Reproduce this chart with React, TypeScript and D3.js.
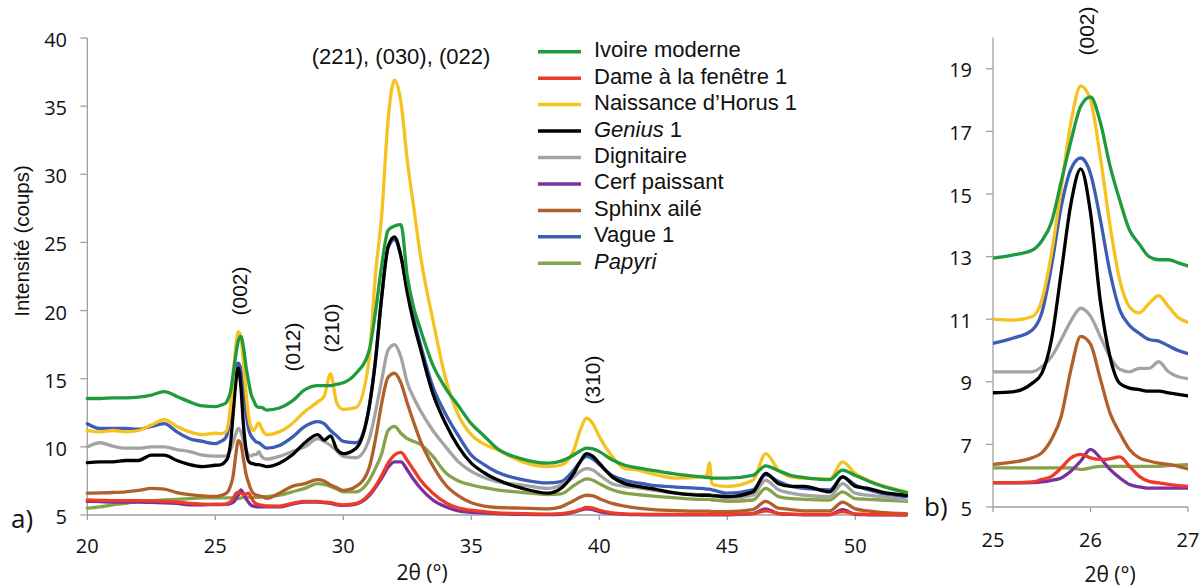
import React from "react";
import * as d3 from "d3";

// 2θ sampling positions (degrees)
const TWO_THETA = [
  20, 20.5, 21, 21.5, 22, 22.5, 23, 23.5, 24, 24.5, 25,
  25.2, 25.4, 25.5, 25.6, 25.7, 25.8, 25.9, 26, 26.1, 26.2, 26.3, 26.4, 26.5, 26.6, 26.7, 26.8, 26.9,
  27, 27.5, 28, 28.5, 29, 29.25, 29.5, 29.75, 30, 30.5,
  31, 31.25, 31.5, 31.75, 32, 32.25, 32.5, 32.75, 33,
  33.5, 34, 34.5, 35, 35.5, 36,
  37, 38, 38.5, 39, 39.25, 39.5, 39.75, 40, 40.5,
  41, 41.5, 42, 43, 44, 44.2, 44.3, 44.4, 44.5,
  45, 46, 46.5, 47, 47.5, 48, 49, 49.5, 50, 50.5, 51, 52,
];

const IVOIRE_MODERNE = [
  13.55, 13.55, 13.6, 13.6, 13.65, 13.8, 14.05, 13.7, 13.3, 13.0, 12.95,
  13.05, 13.2, 13.5, 14.1, 15.4, 16.7, 17.8, 18.1, 17.3, 15.9, 14.8, 13.85, 13.4, 13.0, 12.9, 12.9, 12.8,
  12.7, 12.85, 13.35, 14.2, 14.5, 14.5, 14.5, 14.6, 14.7, 15.4,
  17.0, 19.8, 23.3, 25.9, 26.2, 26.3, 22.5, 20.2, 18.7,
  16.0, 14.3, 13.0, 11.7, 10.8, 9.9,
  9.1, 8.8, 8.95, 9.4, 9.7, 9.9, 9.85, 9.65, 9.05,
  8.65, 8.45, 8.3, 8.0, 7.8, 7.75, 7.75, 7.7, 7.7,
  7.7, 7.9, 8.6, 8.25, 7.9, 7.75, 7.6, 8.3, 7.9, 7.5, 7.15, 6.65,
];

const DAME_FENETRE = [
  6.1, 6.08, 6.05, 6.05, 6.05, 6.03, 6.0, 5.95, 5.85, 5.8, 5.78,
  5.78, 5.8, 5.88, 5.98, 6.25, 6.57, 6.68, 6.57, 6.52, 6.54, 6.6, 6.3, 5.98, 5.82, 5.77, 5.72, 5.68,
  5.66, 5.65, 5.85, 6.0, 6.0, 5.95, 5.9, 5.8, 5.75, 5.85,
  6.5, 7.1, 7.9, 8.8, 9.4, 9.6, 9.0, 8.3, 7.6,
  6.6, 5.9, 5.5, 5.35, 5.25, 5.15,
  5.1, 5.07, 5.1, 5.25, 5.4, 5.55, 5.5, 5.35, 5.15,
  5.08, 5.06, 5.05, 5.05, 5.05, 5.05, 5.05, 5.05, 5.05,
  5.05, 5.1, 5.3, 5.12, 5.07, 5.05, 5.05, 5.25, 5.08, 5.05, 5.03, 5.02,
];

const NAISSANCE_HORUS = [
  11.2, 11.1, 11.2, 11.1, 11.2, 11.6, 12.0, 11.5, 11.1, 10.9, 11.0,
  10.97, 11.08, 11.6, 13.1, 15.2, 17.3, 18.45, 18.0, 16.2, 14.0, 12.25, 11.4, 11.2, 11.5, 11.75, 11.4, 11.05,
  10.9, 11.1, 11.7, 12.6, 13.3, 13.7, 15.35, 13.2, 12.75, 12.9,
  16.3, 22.5, 27.0, 34.0, 36.9, 35.3, 31.0, 27.6, 24.2,
  19.3, 15.0, 12.3, 10.9, 10.2, 9.8,
  8.9, 8.55, 8.65, 9.75, 11.2, 12.1, 11.7, 10.75, 9.3,
  8.4, 8.3, 8.05, 7.7, 7.8, 7.9, 8.85, 7.3, 7.2,
  7.1, 7.55, 9.5, 8.3, 7.8, 7.7, 7.65, 8.9, 8.05, 7.55, 7.2, 6.7,
];

const GENIUS = [
  8.85, 8.9, 8.9, 9.0, 9.0, 9.4, 9.4, 9.0, 8.7, 8.55, 8.65,
  8.68, 8.95, 9.27, 10.35, 12.5, 14.7, 15.8, 14.4, 11.6, 9.8, 8.95, 8.8, 8.75, 8.7, 8.7, 8.65, 8.6,
  8.55, 8.8, 9.4, 10.3, 10.9, 10.5, 10.8, 9.8, 9.5, 9.9,
  12.8, 16.2, 21.0, 24.7, 25.4, 24.0, 21.3, 19.1, 17.3,
  13.9, 11.7, 10.0, 8.8, 8.1, 7.6,
  6.95, 6.6, 6.95, 8.05, 8.9, 9.5, 9.3, 8.8, 7.8,
  7.3, 7.1, 6.95, 6.6, 6.45, 6.45, 6.45, 6.4, 6.4,
  6.35, 6.7, 8.05, 7.3, 7.1, 7.1, 6.7, 7.8, 7.1, 6.95, 6.7, 6.45,
];

const DIGNITAIRE = [
  10.0, 10.3, 10.05, 9.9, 9.9, 10.0, 10.0, 9.8, 9.65, 9.4, 9.32,
  9.32, 9.32, 9.48, 9.8, 10.35, 10.95, 11.35, 11.1, 10.45, 9.8, 9.4, 9.32, 9.43, 9.43, 9.64, 9.32, 9.16,
  9.1, 9.3, 9.65, 10.0, 10.6, 10.4, 10.1, 9.7, 9.3, 9.2,
  10.5, 12.5, 14.9, 17.1, 17.5, 16.6, 14.7, 13.6, 12.7,
  11.2, 10.0, 8.9, 8.2, 7.75, 7.45,
  7.2, 6.95, 7.2, 7.8, 8.2, 8.4, 8.3, 7.95, 7.3,
  7.1, 7.0, 6.85, 6.6, 6.5, 6.5, 6.5, 6.45, 6.45,
  6.2, 6.45, 7.55, 6.85, 6.6, 6.45, 6.35, 7.3, 6.6, 6.45, 6.35, 6.1,
];

const CERF_PAISSANT = [
  6.0, 5.98, 5.95, 5.95, 5.95, 5.92, 5.9, 5.85, 5.75, 5.75, 5.77,
  5.77, 5.78, 5.8, 5.85, 5.93, 6.15, 6.47, 6.84, 6.57, 6.2, 5.93, 5.72, 5.64, 5.6, 5.6, 5.6, 5.6,
  5.6, 5.6, 5.8, 5.95, 5.95, 5.9, 5.85, 5.75, 5.7, 5.8,
  6.4, 7.0, 7.7, 8.5, 8.9, 8.9, 8.3, 7.6, 7.0,
  6.1, 5.6, 5.3, 5.2, 5.15, 5.1,
  5.05, 5.03, 5.05, 5.2, 5.35, 5.45, 5.4, 5.25, 5.1,
  5.05, 5.03, 5.02, 5.02, 5.02, 5.02, 5.02, 5.02, 5.02,
  5.02, 5.1, 5.45, 5.1, 5.04, 5.02, 5.02, 5.4, 5.05, 5.02, 5.01, 5.0,
];

const SPHINX_AILE = [
  6.6, 6.62, 6.65, 6.7, 6.8, 6.95, 6.9, 6.65, 6.5, 6.4, 6.36,
  6.43, 6.57, 6.73, 7.16, 7.9, 9.4, 10.45, 10.2, 9.1, 8.0, 7.37, 6.84, 6.57, 6.47, 6.4, 6.36, 6.3,
  6.22, 6.6, 7.1, 7.3, 7.6, 7.5, 7.2, 7.0, 6.8, 7.1,
  8.4, 10.5, 13.2, 15.1, 15.4, 14.7, 13.2, 11.8, 10.5,
  8.6, 7.2, 6.4, 5.9, 5.65, 5.55,
  5.5, 5.45, 5.6, 6.05, 6.3, 6.45, 6.4, 6.2, 5.85,
  5.65, 5.5, 5.42, 5.32, 5.28, 5.28, 5.28, 5.25, 5.25,
  5.25, 5.4, 6.0, 5.5, 5.4, 5.3, 5.3, 5.95, 5.45, 5.3, 5.2, 5.1,
];

const VAGUE = [
  11.7, 11.35, 11.35, 11.35, 11.3, 11.5, 11.7, 11.1, 10.6, 10.4, 10.23,
  10.39, 10.65, 11.2, 12.7, 14.6, 15.8, 16.15, 15.65, 14.2, 12.5, 11.3, 10.8, 10.55, 10.35, 10.3, 10.15, 10.0,
  9.9, 10.1, 10.7, 11.5, 11.85, 11.7, 11.2, 10.8, 10.4, 10.3,
  12.8, 16.3, 21.0, 24.6, 25.2, 24.0, 21.6, 19.4, 17.6,
  14.4, 12.4, 10.8, 9.4, 8.7, 8.15,
  7.6, 7.35, 7.45, 8.3, 8.9, 9.3, 9.1, 8.7, 7.9,
  7.55, 7.35, 7.2, 7.05, 6.95, 6.9, 6.9, 6.85, 6.8,
  6.6, 6.85, 7.95, 7.45, 7.1, 6.95, 6.85, 7.8, 7.2, 6.85, 6.6, 6.35,
];

const PAPYRI = [
  5.5, 5.6, 5.75, 5.85, 6.0, 6.05, 6.1, 6.15, 6.2, 6.25, 6.25,
  6.25, 6.25, 6.25, 6.25, 6.25, 6.25, 6.2, 6.25, 6.3, 6.3, 6.3, 6.3, 6.3, 6.3, 6.3, 6.32, 6.34,
  6.35, 6.45, 6.7, 6.95, 7.3, 7.25, 7.1, 6.9, 6.7, 6.7,
  7.5, 8.4, 9.5, 11.2, 11.5, 11.0, 10.6, 10.4, 10.2,
  9.3, 8.1, 7.5, 7.2, 7.0, 6.85,
  6.65, 6.5, 6.55, 7.15, 7.45, 7.65, 7.55, 7.3, 6.85,
  6.6, 6.5, 6.4, 6.25, 6.15, 6.15, 6.15, 6.1, 6.1,
  6.0, 6.1, 6.95, 6.35, 6.2, 6.15, 6.1, 6.7, 6.2, 6.15, 6.1, 6.0,
];

const SERIES_LABELS = [
  "Ivoire moderne",
  "Dame à la fenêtre 1",
  "Naissance d’Horus 1",
  "Genius 1",
  "Dignitaire",
  "Cerf paissant",
  "Sphinx ailé",
  "Vague 1",
  "Papyri",
];
const SERIES_VALUES = [
  IVOIRE_MODERNE, DAME_FENETRE, NAISSANCE_HORUS, GENIUS, DIGNITAIRE,
  CERF_PAISSANT, SPHINX_AILE, VAGUE, PAPYRI,
];
const SERIES_COLORS = [
  "#1f9a3c", "#ec3b26", "#f6c21f", "#000000", "#a3a3a3",
  "#7a2f9e", "#b0602a", "#3d5cb3", "#86a34a",
];

const TICKS_A_X = [20, 25, 30, 35, 40, 45, 50];
const TICKS_A_Y = [5, 10, 15, 20, 25, 30, 35, 40];
const TICKS_B_X = [25, 26, 27];
const TICKS_B_Y = [5, 7, 9, 11, 13, 15, 17, 19];

const AXIS = "#a39e9e";
const TICK_FONT = "'Open Sans', 'DejaVu Sans', sans-serif";
const TEXT_FONT = "'Liberation Sans', Arial, sans-serif";

function renderLabel(label: string) {
  if (label === "Genius 1") {
    return (
      <>
        <tspan fontStyle="italic">Genius</tspan>
        <tspan> 1</tspan>
      </>
    );
  }
  if (label === "Papyri") return <tspan fontStyle="italic">Papyri</tspan>;
  return label;
}

export default function App() {
  const W = 1204;
  const H = 587;

  const xa = d3.scaleLinear().domain([20, 52]).range([87.3, 906.5]);
  const ya = d3.scaleLinear().domain([5, 40]).range([515, 38]);
  const xb = d3.scaleLinear().domain([25, 27]).range([993, 1188]);
  const yb = d3.scaleLinear().domain([5, 20]).range([507, 37.5]);

  const series = SERIES_LABELS.map((label, i) => ({
    label,
    color: SERIES_COLORS[i],
    points: TWO_THETA.map((x, j) => [x, SERIES_VALUES[i][j]] as [number, number]),
  }));
  const drawOrder = series.slice().reverse();

  const lineA = d3
    .line<[number, number]>()
    .x((d) => xa(d[0]))
    .y((d) => ya(d[1]))
    .curve(d3.curveMonotoneX);
  const lineB = d3
    .line<[number, number]>()
    .x((d) => xb(d[0]))
    .y((d) => yb(d[1]))
    .curve(d3.curveMonotoneX);

  const rot = (x: number, y: number, text: string, size = 21) => (
    <text
      transform={`translate(${x + 7},${y}) rotate(-90)`}
      textAnchor="middle"
      fontFamily={TEXT_FONT}
      fontSize={size}
      fill="#111"
    >
      {text}
    </text>
  );

  return (
    <svg
      width={W}
      height={H}
      style={{ position: "absolute", left: 0, top: 0, background: "#fff" }}
    >
      <defs>
        <clipPath id="clipB">
          <rect x={xb(25)} y={yb(20)} width={xb(27) - xb(25)} height={yb(5) - yb(20)} />
        </clipPath>
      </defs>

      {/* Panel a axes */}
      <line x1={xa(20)} x2={xa(20)} y1={ya(40)} y2={ya(5)} stroke={AXIS} strokeWidth={1.3} />
      <line x1={xa(20)} x2={xa(52)} y1={ya(5)} y2={ya(5)} stroke={AXIS} strokeWidth={1.3} />
      {TICKS_A_Y.map((t) => (
        <g key={"ay" + t}>
          <line x1={xa(20) - 7} x2={xa(20)} y1={ya(t)} y2={ya(t)} stroke={AXIS} strokeWidth={1.3} />
          <text x={67} y={ya(t) + 9} textAnchor="end" fontFamily={TICK_FONT} fontSize={20} fill="#111">
            {t}
          </text>
        </g>
      ))}
      {TICKS_A_X.map((t) => (
        <g key={"ax" + t}>
          <line x1={xa(t)} x2={xa(t)} y1={ya(5)} y2={ya(5) + 5} stroke={AXIS} strokeWidth={1.3} />
          <text x={xa(t)} y={553} textAnchor="middle" fontFamily={TICK_FONT} fontSize={20} fill="#111">
            {t}
          </text>
        </g>
      ))}
      <text x={422} y={580} textAnchor="middle" fontFamily={TICK_FONT} fontSize={21} fill="#111">
        2θ (°)
      </text>
      <text
        transform="translate(29,241) rotate(-90)"
        textAnchor="middle"
        fontFamily={TEXT_FONT}
        fontSize={20.5}
        fill="#111"
      >
        Intensité (coups)
      </text>
      <text x={11} y={528} fontFamily={TICK_FONT} fontSize={26} fill="#111">
        a)
      </text>

      {/* Panel a lines */}
      {drawOrder.map((s) => (
        <path
          key={"a" + s.label}
          d={lineA(s.points) || ""}
          fill="none"
          stroke={s.color}
          strokeWidth={3.3}
          strokeLinejoin="round"
          strokeLinecap="round"
        />
      ))}

      {/* Panel a annotations */}
      <text x={401} y={64} textAnchor="middle" fontFamily={TEXT_FONT} fontSize={22} fill="#111">
        (221), (030), (022)
      </text>
      {rot(240, 291, "(002)")}
      {rot(293, 347, "(012)")}
      {rot(332, 328, "(210)")}
      {rot(593, 380, "(310)")}

      {/* Legend */}
      {series.map((s, i) => {
        const y = 51.7 + i * 26.45;
        return (
          <g key={"lg" + s.label}>
            <line x1={538} x2={581} y1={y} y2={y} stroke={s.color} strokeWidth={3.5} />
            <text x={594} y={y + 5.5} fontFamily={TEXT_FONT} fontSize={22} fill="#111">
              {renderLabel(s.label)}
            </text>
          </g>
        );
      })}

      {/* Panel b axes */}
      <line x1={xb(25)} x2={xb(25)} y1={yb(20)} y2={yb(5)} stroke={AXIS} strokeWidth={1.3} />
      <line x1={xb(25)} x2={xb(27)} y1={yb(5)} y2={yb(5)} stroke={AXIS} strokeWidth={1.3} />
      {TICKS_B_Y.map((t) => (
        <g key={"by" + t}>
          <line x1={xb(25) - 7} x2={xb(25)} y1={yb(t)} y2={yb(t)} stroke={AXIS} strokeWidth={1.3} />
          <text x={972} y={yb(t) + 8.5} textAnchor="end" fontFamily={TICK_FONT} fontSize={20} fill="#111">
            {t}
          </text>
        </g>
      ))}
      {TICKS_B_X.map((t) => (
        <g key={"bx" + t}>
          <line x1={xb(t)} x2={xb(t)} y1={yb(5)} y2={yb(5) + 5} stroke={AXIS} strokeWidth={1.3} />
          <text x={xb(t)} y={547} textAnchor="middle" fontFamily={TICK_FONT} fontSize={20} fill="#111">
            {t}
          </text>
        </g>
      ))}
      <text x={1110} y={582} textAnchor="middle" fontFamily={TICK_FONT} fontSize={21} fill="#111">
        2θ (°)
      </text>
      <text x={924} y={516} fontFamily={TICK_FONT} fontSize={26} fill="#111">
        b)
      </text>

      {/* Panel b lines */}
      <g clipPath="url(#clipB)">
        {drawOrder.map((s) => (
          <path
            key={"b" + s.label}
            d={lineB(s.points.filter((p) => p[0] >= 24.9 && p[0] <= 27.1)) || ""}
            fill="none"
            stroke={s.color}
            strokeWidth={3.3}
            strokeLinejoin="round"
            strokeLinecap="round"
          />
        ))}
      </g>
      {rot(1087, 31, "(002)")}
    </svg>
  );
}
